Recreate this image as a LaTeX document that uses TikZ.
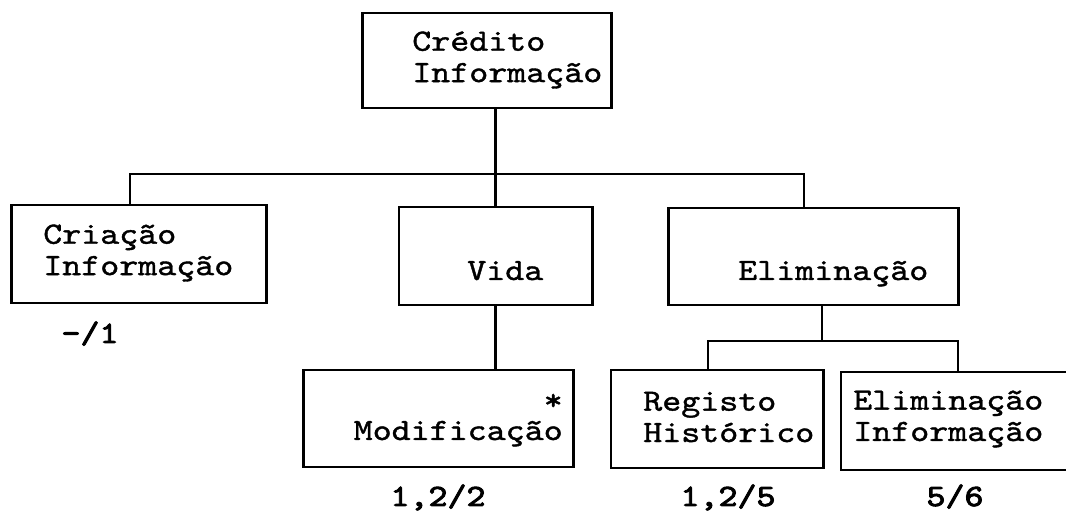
\documentclass[tikz,border=0pt]{standalone}
\usepackage{fontspec}
\newfontfamily\caixafont[FakeBold=1.2, FakeStretch=1.17]{lmmono10-regular.otf}
\newfontfamily\numfont[FakeBold=3, FakeStretch=1.17]{lmmono10-regular.otf}
\usetikzlibrary{positioning, calc}

\begin{document}
\begin{tikzpicture}[x=0.025cm, y=-0.025cm,
    caixa/.style={draw, line width=2.1pt, inner sep=0pt},
    texto/.style={inner sep=0pt, align=left, font=\caixafont\fontsize{22}{22.3}\selectfont},
    numero/.style={inner sep=0pt, font=\numfont\fontsize{22}{22.3}\selectfont},
    linha/.style={line width=2.1pt}]
    \useasboundingbox (0,0) rectangle (1066,517);

    % caixas
    \node[caixa, minimum width=6.2cm, minimum height=2.375cm] (credito) at (487,60.5) {};
    \node[caixa, minimum width=6.35cm, minimum height=2.45cm] (criacao) at (139,254) {};
    \node[caixa, minimum width=4.825cm, minimum height=2.45cm] (vida) at (495.5,256) {};
    \node[caixa, minimum width=7.225cm, minimum height=2.425cm] (elim) at (813.5,256.5) {};
    \node[caixa, minimum width=6.725cm, minimum height=2.425cm] (modif) at (438.5,418.5) {};
    \node[caixa, minimum width=5.3cm, minimum height=2.45cm] (registo) at (717,419) {};
    \node[caixa, minimum width=5.775cm, minimum height=2.45cm] (eliminfo) at (956.5,421) {};

    % textos das caixas
    \node[texto, anchor=west] (tcredito) at (412,60) {Crédito\\Informação};
    \node[texto, anchor=west] (tcriacao) at (43,253) {Criação\\Informação};
    \node[texto, anchor=base west] (tvida) at (467,280) {Vida};
    \node[texto, anchor=base west] (telim) at (738,280) {Eliminação};
    \node[texto, anchor=base east] (tasterisco) at (563,410) {*};
    \node[texto, anchor=base east] (tmodif) at (563,440) {Modificação};
    \node[texto, anchor=west] (tregisto) at (643,417) {Registo\\Histórico};
    \node[texto, anchor=west] (teliminfo) at (853,419) {Eliminação\\Informação};

    % numeros
    \node[numero, anchor=base] (ncriacao) at (90,343) {-/1};
    \node[numero, anchor=base] (nmodif) at (438,506) {1,2/2};
    \node[numero, anchor=base] (nregisto) at (728,506) {1,2/5};
    \node[numero, anchor=base] (neliminfo) at (955,506) {5/6};

    % ligacoes
    \coordinate (barra) at (496,174);
    \coordinate (barra2) at (822,341);
    \draw[linha] (vida.north |- credito.south) -- (vida.north);
    \draw[linha] ([xshift=-0.225cm]criacao.north) |- (barra) -| ([xshift=-0.2375cm]elim.north);
    \draw[linha] (vida.south) -- (vida.south |- modif.north);
    \draw[linha] (barra2 |- elim.south) -- (barra2);
    \draw[linha] ([xshift=-0.225cm]registo.north) |- (barra2) -| ([xshift=0.0375cm]eliminfo.north);
\end{tikzpicture}
\end{document}
